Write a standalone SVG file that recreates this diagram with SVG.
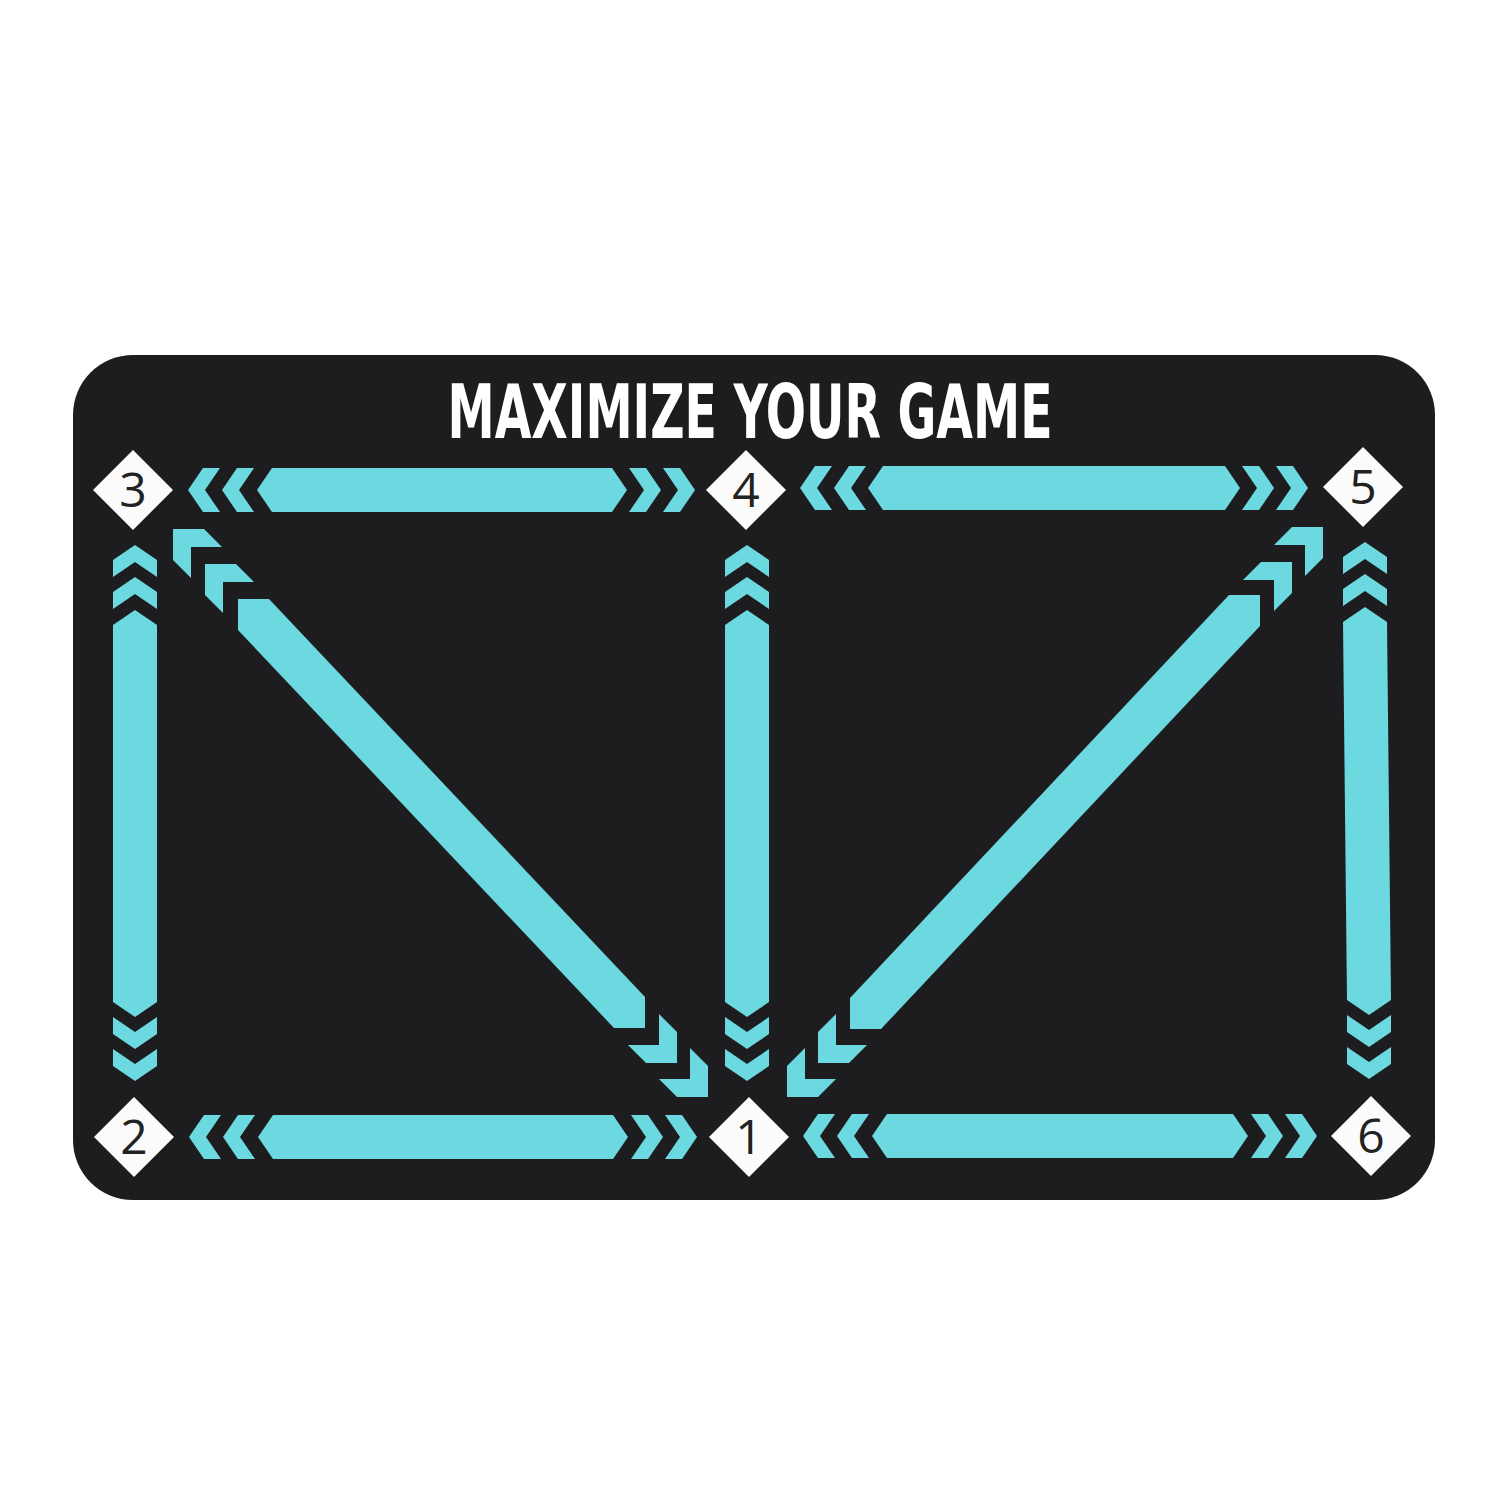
<svg xmlns="http://www.w3.org/2000/svg" xmlns:xlink="http://www.w3.org/1999/xlink" width="1500" height="1500" viewBox="0 0 1500 1500">
<style>
.cy{fill:#6cd9e1}
.dia{fill:#fbfbfb}
.num{font-family:"Open Sans","DejaVu Sans",sans-serif;font-size:48px;fill:#222;text-anchor:middle}
.title{font-family:"DejaVu Sans Condensed","DejaVu Sans",sans-serif;font-weight:bold;font-size:75px;fill:#fff;text-anchor:middle}
</style>
<defs>
<path id="hc" class="cy" d="M0,0 L-15,-22 L-32,-22 L-17,0 L-32,22 L-15,22 Z"/>
<path id="dc" class="cy" d="M0,0 H31 L49,18 H18 V49 L0,31 Z"/>
<polygon id="dm" class="dia" points="0,-40 40,0 0,40 -40,0"/>
</defs>
<rect x="0" y="0" width="1500" height="1500" fill="#ffffff"/>
<rect id="mat" x="73" y="355" width="1362" height="845" rx="60" ry="60" fill="#1d1d1f"/>
<text class="title" x="750" y="438" textLength="605" lengthAdjust="spacingAndGlyphs">MAXIMIZE YOUR GAME</text>
<g id="connectors">
<use xlink:href="#hc" transform="translate(188,490) rotate(180)"/>
<use xlink:href="#hc" transform="translate(222,490) rotate(180)"/>
<polygon class="cy" points="257,490 272,468 612,468 627,490 612,512 272,512"/>
<use xlink:href="#hc" transform="translate(661,490)"/>
<use xlink:href="#hc" transform="translate(695,490)"/>
<use xlink:href="#hc" transform="translate(800,488) rotate(180)"/>
<use xlink:href="#hc" transform="translate(834,488) rotate(180)"/>
<polygon class="cy" points="868,488 883,466 1225,466 1240,488 1225,510 883,510"/>
<use xlink:href="#hc" transform="translate(1274,488)"/>
<use xlink:href="#hc" transform="translate(1308,488)"/>
<use xlink:href="#hc" transform="translate(189,1137) rotate(180)"/>
<use xlink:href="#hc" transform="translate(223,1137) rotate(180)"/>
<polygon class="cy" points="258,1137 273,1115 613,1115 628,1137 613,1159 273,1159"/>
<use xlink:href="#hc" transform="translate(663,1137)"/>
<use xlink:href="#hc" transform="translate(697,1137)"/>
<use xlink:href="#hc" transform="translate(803,1136) rotate(180)"/>
<use xlink:href="#hc" transform="translate(837,1136) rotate(180)"/>
<polygon class="cy" points="872,1136 887,1114 1233,1114 1248,1136 1233,1158 887,1158"/>
<use xlink:href="#hc" transform="translate(1283,1136)"/>
<use xlink:href="#hc" transform="translate(1317,1136)"/>
<use xlink:href="#hc" transform="translate(135,545) rotate(-90)"/>
<use xlink:href="#hc" transform="translate(135,577) rotate(-90)"/>
<polygon class="cy" points="135,610 157,625 157,1002 135,1017 113,1002 113,625"/>
<use xlink:href="#hc" transform="translate(135,1049) rotate(90)"/>
<use xlink:href="#hc" transform="translate(135,1081) rotate(90)"/>
<use xlink:href="#hc" transform="translate(747,545) rotate(-90)"/>
<use xlink:href="#hc" transform="translate(747,577) rotate(-90)"/>
<polygon class="cy" points="747,610 769,625 769,1002 747,1017 725,1002 725,625"/>
<use xlink:href="#hc" transform="translate(747,1049) rotate(90)"/>
<use xlink:href="#hc" transform="translate(747,1081) rotate(90)"/>
<use xlink:href="#hc" transform="translate(1365,542) rotate(-90)"/>
<use xlink:href="#hc" transform="translate(1365,574) rotate(-90)"/>
<polygon class="cy" points="1365,607 1387,622 1391,1000 1369,1015 1347,1000 1343,622"/>
<use xlink:href="#hc" transform="translate(1369,1047) rotate(90)"/>
<use xlink:href="#hc" transform="translate(1369,1079) rotate(90)"/>
<use xlink:href="#dc" transform="translate(173,529)"/>
<use xlink:href="#dc" transform="translate(205,564)"/>
<polygon class="cy" points="238,599 269,599 645,997 645,1028 614,1028 238,630"/>
<use xlink:href="#dc" transform="translate(677,1063) rotate(180)"/>
<use xlink:href="#dc" transform="translate(708,1097) rotate(180)"/>
<use xlink:href="#dc" transform="translate(818,1063) rotate(270)"/>
<use xlink:href="#dc" transform="translate(787,1097) rotate(270)"/>
<polygon class="cy" points="1260,595 1260,626 881,1029 850,1029 850,998 1229,595"/>
<use xlink:href="#dc" transform="translate(1292,562) rotate(90)"/>
<use xlink:href="#dc" transform="translate(1323,527) rotate(90)"/>
</g>
<g id="node-3"><use xlink:href="#dm" transform="translate(133,490)"/><text class="num" x="133" y="507">3</text></g>
<g id="node-4"><use xlink:href="#dm" transform="translate(746,490)"/><text class="num" x="746" y="507">4</text></g>
<g id="node-5"><use xlink:href="#dm" transform="translate(1363,487)"/><text class="num" x="1363" y="504">5</text></g>
<g id="node-2"><use xlink:href="#dm" transform="translate(134,1137)"/><text class="num" x="134" y="1154">2</text></g>
<g id="node-1"><use xlink:href="#dm" transform="translate(749,1137)"/><text class="num" x="749" y="1154">1</text></g>
<g id="node-6"><use xlink:href="#dm" transform="translate(1371,1136)"/><text class="num" x="1371" y="1153">6</text></g>
</svg>
